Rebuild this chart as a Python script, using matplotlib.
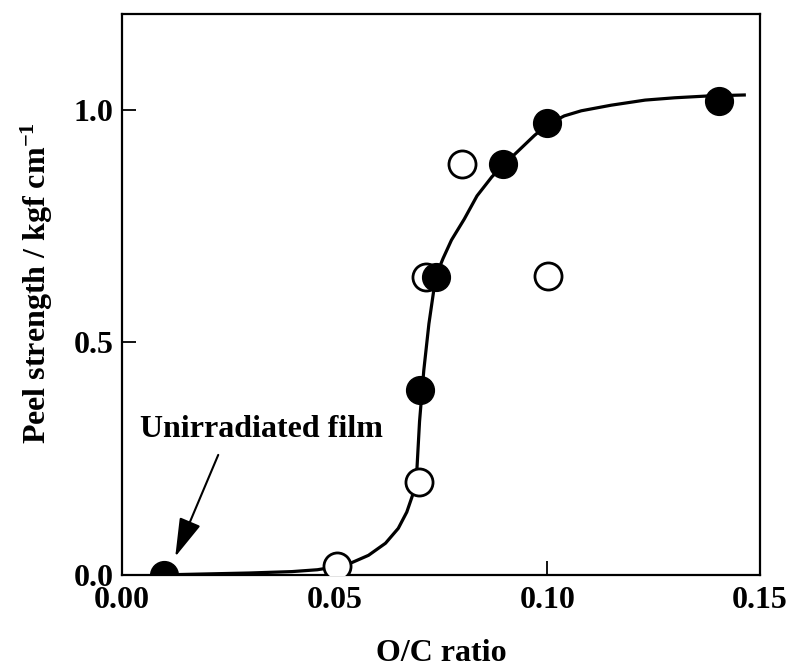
import matplotlib.pyplot as plt

# data
filled_x = [0.010, 0.070, 0.0738, 0.0895, 0.100, 0.1404]
filled_y = [0.000, 0.398, 0.641, 0.884, 0.972, 1.020]
open_x = [0.0507, 0.0699, 0.0715, 0.080, 0.1002]
open_y = [0.020, 0.200, 0.640, 0.884, 0.643]

# hand-traced fitted curve
curve_x = [0.010, 0.020, 0.030, 0.040, 0.046, 0.050, 0.054, 0.058, 0.062, 0.065,
           0.067, 0.0685, 0.0694, 0.0700, 0.0710, 0.0722, 0.0738, 0.0755, 0.0775,
           0.0805, 0.0835, 0.0870, 0.0900, 0.0930, 0.0970, 0.1000, 0.1040, 0.1080,
           0.1150, 0.1230, 0.1300, 0.1380, 0.1463]
curve_y = [0.000, 0.002, 0.004, 0.007, 0.011, 0.017, 0.026, 0.042, 0.068, 0.100,
           0.135, 0.175, 0.230, 0.330, 0.440, 0.540, 0.641, 0.680, 0.720,
           0.765, 0.815, 0.856, 0.884, 0.910, 0.945, 0.968, 0.987, 0.998,
           1.010, 1.021, 1.026, 1.030, 1.032]

plt.rcParams['font.family'] = 'Liberation Serif'
plt.rcParams['font.weight'] = 'bold'
plt.rcParams['mathtext.default'] = 'bf'
plt.rcParams['mathtext.fontset'] = 'custom'
plt.rcParams['mathtext.bf'] = 'Liberation Serif:bold'

fig = plt.figure(figsize=(7.95, 6.7), dpi=100)
ax = fig.add_axes([0.153, 0.142, 0.803, 0.837])

ax.plot(curve_x, curve_y, color='black', lw=2.3, zorder=2)
ax.plot(open_x, open_y, 'o', ms=19.5, mfc='white', mec='black', mew=2, zorder=3)
ax.plot(filled_x, filled_y, 'o', ms=20, mfc='black', mec='black', zorder=4)

ax.set_xlim(0, 0.15)
ax.set_ylim(0, 1.206)
ax.set_xticks([0.00, 0.05, 0.10, 0.15])
ax.set_xticklabels(['0.00', '0.05', '0.10', '0.15'])
ax.set_yticks([0.0, 0.5, 1.0])
ax.set_yticklabels(['0.0', '0.5', '1.0'])
ax.tick_params(direction='in', length=10, width=1.3, labelsize=23, pad=6)
ax.tick_params(axis='x', pad=8)
for sp in ax.spines.values():
    sp.set_linewidth(1.6)

ax.set_xlabel('O/C ratio', fontsize=23, fontweight='bold', labelpad=17)
ax.set_ylabel('Peel strength / kgf cm$^{-1}$', fontsize=23, fontweight='bold')
ax.yaxis.set_label_coords(-0.105, 0.52)

ax.text(0.0044, 0.297, 'Unirradiated film', fontsize=23, fontweight='bold',
        ha='left', va='baseline')
ax.annotate('', xy=(0.0126, 0.039), xytext=(0.0227, 0.258),
            arrowprops=dict(arrowstyle='-|>,head_length=2.4,head_width=0.7',
                            color='black', lw=1.5, shrinkA=0, shrinkB=0))

fig.savefig('out.png', dpi=100)
